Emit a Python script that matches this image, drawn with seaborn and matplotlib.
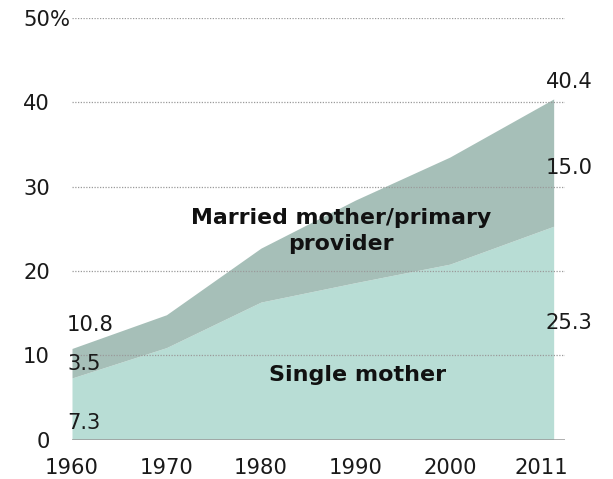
import matplotlib
matplotlib.use('Agg')
import matplotlib.pyplot as plt
import matplotlib.transforms as mtransforms
import pandas as pd
import seaborn as sns

# data (share of households with children, %)
years = [1960, 1970, 1980, 1990, 2000, 2011]
single_mother = [7.3, 10.9, 16.3, 18.6, 20.8, 25.3]
married_mother = [3.5, 3.9, 6.4, 9.8, 12.7, 15.1]
y_ticks = [0, 10, 20, 30, 40, 50]
start_labels = ['10.8', '3.5', '7.3']
end_labels = ['40.4', '15.0', '25.3']

single_color = '#b8ddd5'
married_color = '#a6bfb8'
text_color = '#1a1a1a'
fs = 15.2

df = pd.DataFrame({'year': years,
                   'single': single_mother,
                   'married': married_mother})
df['total'] = df['single'] + df['married']

sns.set_theme(style='white')
plt.rcParams['font.family'] = ['DejaVu Sans']

fig = plt.figure(figsize=(6.13, 4.79), dpi=100)
ax = fig.add_axes([72 / 613, 1 - 439.5 / 479, (565 - 72) / 613, (439.5 - 18) / 479])

# stacked areas
ax.fill_between(df['year'], 0, df['single'], color=single_color, lw=0, zorder=1)
ax.fill_between(df['year'], df['single'], df['total'], color=married_color, lw=0, zorder=1)

# dotted gridlines on top of the areas, solid baseline
for t in y_ticks[1:]:
    ax.axhline(t, color='#9a9a9a', lw=0.9, ls=(0, (1, 1.2)), zorder=3)
ax.axhline(0, color='#999999', lw=1.8, zorder=3)

ax.set_xlim(1960, 2012.2)
ax.set_ylim(0, 50)
sns.despine(ax=ax, left=True, bottom=True, top=True, right=True)
ax.grid(False)

ax.set_yticks(y_ticks)
ax.set_yticklabels([str(t) for t in y_ticks])
ax.set_xticks(years)
ax.set_xticklabels([str(y) for y in years])
ax.tick_params(axis='y', length=0, pad=16, labelsize=fs, labelcolor=text_color)
ax.tick_params(axis='x', length=0, pad=13, labelsize=fs, labelcolor=text_color)

# the 2011 label sits a bit left of its data point
last = ax.get_xticklabels()[-1]
last.set_transform(last.get_transform() +
                   mtransforms.ScaledTranslation(-12 / 100, 0, fig.dpi_scale_trans))

# percent sign after the top tick label
pct_tr = ax.get_yaxis_transform() + mtransforms.ScaledTranslation(-22 / 100, 0, fig.dpi_scale_trans)
ax.text(0, 50, '%', transform=pct_tr, ha='left', va='center_baseline',
        fontsize=fs, color=text_color)

# start / end value labels
left_tr = ax.transData + mtransforms.ScaledTranslation(-5 / 100, 0, fig.dpi_scale_trans)
for lab, yv in zip(start_labels, [13.6, 8.9, 1.9]):
    ax.text(years[0], yv, lab, transform=left_tr, ha='left', va='center',
            fontsize=fs, color=text_color, zorder=4)

right_tr = ax.transData + mtransforms.ScaledTranslation(-8 / 100, 0, fig.dpi_scale_trans)
for lab, yv in zip(end_labels, [42.4, 32.2, 13.8]):
    ax.text(years[-1], yv, lab, transform=right_tr, ha='left', va='center',
            fontsize=fs, color=text_color, zorder=4)

# series names inside the areas
ax.text(1988.5, 24.7, 'Married mother/primary\nprovider', ha='center', va='center',
        fontsize=15.8, fontweight='bold', color='#111111', linespacing=1.35, zorder=4)
ax.text(1990.2, 7.7, 'Single mother', ha='center', va='center',
        fontsize=16, fontweight='bold', color='#111111', zorder=4)

fig.savefig('out.png', dpi=100)
